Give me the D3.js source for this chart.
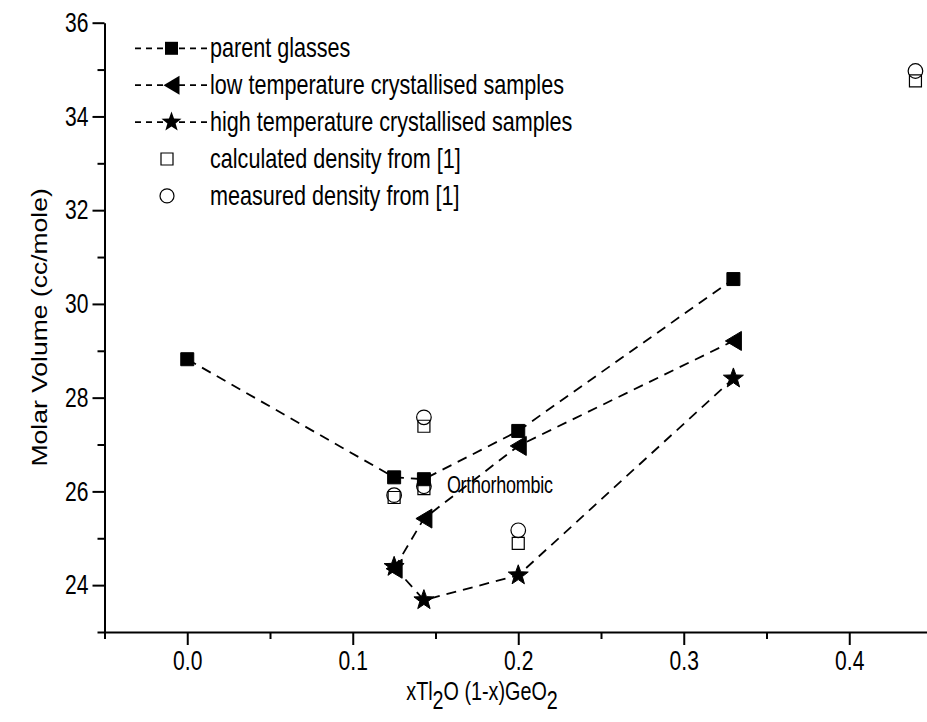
<!DOCTYPE html>
<html>
<head>
<meta charset="utf-8">
<script src="https://cdn.jsdelivr.net/npm/d3@7"></script>
<style>
  html, body { margin: 0; padding: 0; background: #fff; }
  svg { display: block; font-family: "Liberation Sans", Arial, sans-serif; }
</style>
</head>
<body>
<svg id="chart" width="927" height="722"></svg>
<script>
// ---- data ----
const xParent = [0.0, 0.125, 0.143, 0.2, 0.33];
const yParent = [28.82, 26.30, 26.26, 27.29, 30.53];

const xLow = [0.125, 0.143, 0.2, 0.33];
const yLow = [24.35, 25.42, 26.97, 29.21];

const xHigh = [0.125, 0.143, 0.2, 0.33];
const yHigh = [24.39, 23.68, 24.21, 28.41];

const xCalc = [0.125, 0.143, 0.143, 0.2, 0.44];
const yCalc = [25.87, 26.06, 27.39, 24.89, 34.76];

const xMeas = [0.125, 0.143, 0.143, 0.2, 0.44];
const yMeas = [25.92, 26.11, 27.58, 25.17, 34.97];

const xMajorTicks = [0.0, 0.1, 0.2, 0.3, 0.4];
const xMinorTicks = [-0.05, 0.05, 0.15, 0.25, 0.35, 0.45];
const yMajorTicks = [24, 26, 28, 30, 32, 34, 36];
const yMinorTicks = [23, 25, 27, 29, 31, 33, 35];

const legendLabels = [
  "parent glasses",
  "low temperature crystallised samples",
  "high temperature crystallised samples",
  "calculated density from [1]",
  "measured density from [1]"
];

const annotationText = "Orthorhombic";
const annotationX = 0.143, annotationY = 26.1;

// ---- layout ----
const svg = d3.select("#chart");
const mLeft = 104.5, mTop = 22.7, mBottom = 632;
const x = d3.scaleLinear().domain([-0.05, 0.45]).range([mLeft, mLeft + 0.5 * 1655]);
const y = d3.scaleLinear().domain([23, 36]).range([mBottom, mTop]);

const FS = 27;     // tick font size
const SX = 0.78;   // horizontal condensing of glyphs

// condensed text helper
function ctext(px, py, str, size, sx, anchor) {
  const g = svg.append("g").attr("transform", `translate(${px},${py}) scale(${sx},1)`);
  return g.append("text").attr("x", 0).attr("y", 0).attr("font-size", size)
    .attr("text-anchor", anchor || "start").attr("fill", "#000").text(str);
}

// axes
const gx = svg.append("g").attr("transform", `translate(0,${mBottom})`);
gx.call(d3.axisBottom(x).tickValues(xMajorTicks).tickSize(13).tickSizeOuter(0).tickPadding(6)
  .tickFormat(d3.format(".1f")));
const gxm = svg.append("g").attr("transform", `translate(0,${mBottom})`);
gxm.call(d3.axisBottom(x).tickValues(xMinorTicks).tickSize(7).tickSizeOuter(0).tickFormat(""));

const gy = svg.append("g").attr("transform", `translate(${mLeft},0)`);
gy.call(d3.axisLeft(y).tickValues(yMajorTicks).tickSize(12).tickSizeOuter(0).tickPadding(5)
  .tickFormat(d3.format("d")));
const gym = svg.append("g").attr("transform", `translate(${mLeft},0)`);
gym.call(d3.axisLeft(y).tickValues(yMinorTicks).tickSize(7).tickSizeOuter(0).tickFormat(""));

svg.selectAll(".domain").attr("stroke", "#000").attr("stroke-width", 2);
svg.selectAll(".tick line").attr("stroke", "#000").attr("stroke-width", 2);
svg.selectAll(".tick text").attr("fill", "#000").attr("font-size", FS)
  .attr("font-family", "Liberation Sans, Arial, sans-serif");
gx.selectAll(".tick text").attr("transform", `scale(${SX},1)`);
gy.selectAll(".tick text").attr("x", -16 / SX).attr("transform", `scale(${SX},1)`);
gxm.select(".domain").remove();
gym.select(".domain").remove();

// axis titles
const xt = ctext(482, 700, "", 26, 0.76, "middle");
xt.append("tspan").text("xTl");
xt.append("tspan").attr("dy", 9).text("2");
xt.append("tspan").attr("dy", -9).text("O (1-x)GeO");
xt.append("tspan").attr("dy", 9).text("2");

svg.append("g")
  .attr("transform", `translate(47,${(mTop + mBottom) / 2}) rotate(-90) scale(1,0.82)`)
  .append("text").attr("text-anchor", "middle").attr("font-size", 26.5).attr("fill", "#000")
  .text("Molar Volume (cc/mole)");

// marker generators
const sqPath = s => `M${-s/2},${-s/2}h${s}v${s}h${-s}Z`;
const triPath = (w, h) => `M${-w/2},0L${w/2},${-h/2}L${w/2},${h/2}Z`;
const starPath = (R, r) => {
  let p = "";
  for (let i = 0; i < 10; i++) {
    const rad = i % 2 === 0 ? R : r;
    const a = -Math.PI / 2 + i * Math.PI / 5;
    p += (i === 0 ? "M" : "L") + (rad * Math.cos(a)).toFixed(2) + "," + (rad * Math.sin(a)).toFixed(2);
  }
  return p + "Z";
};

const dash = "10,7";
const line = d3.line().x(d => x(d[0])).y(d => y(d[1]));

function drawSeries(xs, ys, pathStr, filled) {
  const pts = xs.map((v, i) => [v, ys[i]]);
  svg.append("path").datum(pts).attr("d", line).attr("fill", "none")
    .attr("stroke", "#000").attr("stroke-width", 1.8).attr("stroke-dasharray", dash);
  svg.append("g").selectAll("path").data(pts).join("path")
    .attr("transform", d => `translate(${x(d[0])},${y(d[1])})`)
    .attr("d", pathStr)
    .attr("fill", filled ? "#000" : "none").attr("stroke", "#000").attr("stroke-width", 1);
}

drawSeries(xParent, yParent, sqPath(13), true);
drawSeries(xLow, yLow, triPath(16, 19), true);
drawSeries(xHigh, yHigh, starPath(10.5, 4.3), true);

// scatter only
const calc = xCalc.map((v, i) => [v, yCalc[i]]);
svg.append("g").selectAll("path").data(calc).join("path")
  .attr("transform", d => `translate(${x(d[0])},${y(d[1])})`)
  .attr("d", sqPath(12)).attr("fill", "none").attr("stroke", "#000").attr("stroke-width", 1.2);
const meas = xMeas.map((v, i) => [v, yMeas[i]]);
svg.append("g").selectAll("circle").data(meas).join("circle")
  .attr("cx", d => x(d[0])).attr("cy", d => y(d[1])).attr("r", 7.3)
  .attr("fill", "none").attr("stroke", "#000").attr("stroke-width", 1.2);

// annotation
ctext(x(annotationX) + 23, y(annotationY) + 6, annotationText, 23, 0.78).attr("letter-spacing", -0.3);

// legend
const legY0 = 48.3, legDy = 36.9;
const lx0 = 135, lx1 = 207, lmx = 171.5, ltx = 210;
const legMarkers = [sqPath(13), triPath(16, 19), starPath(10.5, 4.3)];
legendLabels.forEach((lab, i) => {
  const ly = legY0 + i * legDy;
  if (i < 3) {
    svg.append("line").attr("x1", lx0).attr("x2", lx1).attr("y1", ly).attr("y2", ly)
      .attr("stroke", "#000").attr("stroke-width", 1.8).attr("stroke-dasharray", "6,5");
    svg.append("path").attr("transform", `translate(${lmx},${ly})`).attr("d", legMarkers[i])
      .attr("fill", "#000");
  } else if (i === 3) {
    svg.append("path").attr("transform", `translate(167,${ly})`).attr("d", sqPath(12))
      .attr("fill", "none").attr("stroke", "#000").attr("stroke-width", 1.2);
  } else {
    svg.append("circle").attr("cx", 167).attr("cy", ly).attr("r", 7)
      .attr("fill", "none").attr("stroke", "#000").attr("stroke-width", 1.2);
  }
  ctext(ltx, ly + 9, lab, 27, 0.8);
});
</script>
</body>
</html>
